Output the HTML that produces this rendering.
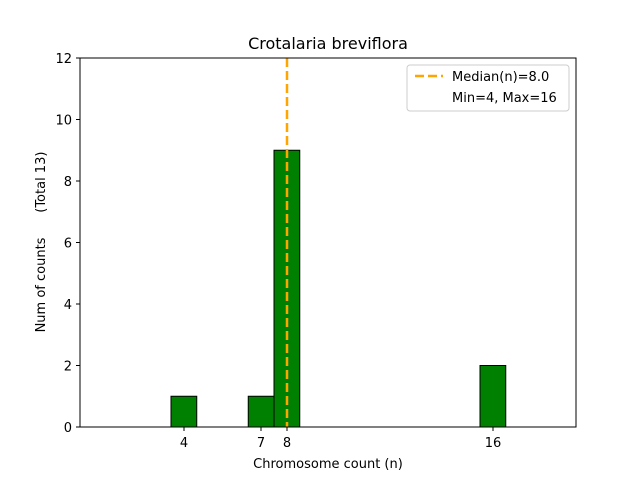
<!DOCTYPE html>
<html><head><style>body{margin:0;background:#fff}text{white-space:pre}</style></head><body>
<svg width="640" height="480" xmlns="http://www.w3.org/2000/svg" font-family="DejaVu Sans, Liberation Sans, sans-serif">
<rect width="640" height="480" fill="#fff"/>
<g fill="#008000" stroke="#000" stroke-width="1">
<rect x="171" y="396.25" width="25.75" height="30.75"/>
<rect x="248.25" y="396.25" width="25.75" height="30.75"/>
<rect x="274" y="150.25" width="25.75" height="276.75"/>
<rect x="480" y="365.5" width="25.75" height="61.5"/>
</g>
<line x1="287" y1="58" x2="287" y2="427" stroke="#ffa500" stroke-width="2.5" stroke-dasharray="9,4"/>
<rect x="80" y="58" width="496" height="369" fill="none" stroke="#000" stroke-width="1"/>
<g stroke="#000">
<line x1="80" y1="427" x2="76" y2="427"/><line x1="80" y1="365.5" x2="76" y2="365.5"/><line x1="80" y1="304" x2="76" y2="304"/><line x1="80" y1="242.5" x2="76" y2="242.5"/><line x1="80" y1="181" x2="76" y2="181"/><line x1="80" y1="119.5" x2="76" y2="119.5"/><line x1="80" y1="58" x2="76" y2="58"/>
<line x1="184" y1="427" x2="184" y2="431"/><line x1="261" y1="427" x2="261" y2="431"/><line x1="287" y1="427" x2="287" y2="431"/><line x1="493" y1="427" x2="493" y2="431"/>
</g>
<g font-size="13" text-anchor="end">
<text x="72" y="432">0</text><text x="72" y="370.5">2</text><text x="72" y="309">4</text><text x="72" y="247.5">6</text><text x="72" y="186">8</text><text x="72" y="124.5">10</text><text x="72" y="63">12</text>
</g>
<g font-size="13" text-anchor="middle">
<text x="184" y="447">4</text><text x="261" y="447">7</text><text x="287" y="447">8</text><text x="493" y="447">16</text>
<text x="328" y="468">Chromosome count (n)</text>
<text x="328" y="49" font-size="16">Crotalaria breviflora</text>
<text transform="translate(45,242) rotate(-90)" xml:space="preserve">Num of counts      (Total 13)</text>
</g>
<rect x="407" y="65" width="162" height="46" fill="#fff" stroke="#ccc" rx="3"/>
<line x1="415" y1="76" x2="443" y2="76" stroke="#ffa500" stroke-width="2.5" stroke-dasharray="9,4"/>
<text x="452" y="81" font-size="13">Median(n)=8.0</text>
<text x="452" y="102" font-size="13">Min=4, Max=16</text>
</svg>
</body></html>
